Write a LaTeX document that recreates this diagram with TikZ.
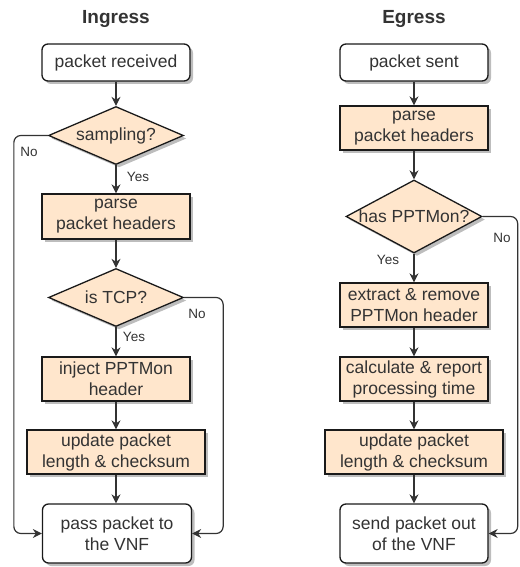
\documentclass[tikz,border=0pt]{standalone}
\usepackage{fontspec}
\setmainfont{Liberation Sans}
\usetikzlibrary{shapes.geometric,arrows.meta,shadows}
\definecolor{peach}{HTML}{FFE6CC}
\definecolor{ink}{HTML}{333333}
\definecolor{edge}{HTML}{1A1A1A}
\definecolor{shade}{HTML}{BDBDBD}
\begin{document}
\begin{tikzpicture}[x=1pt,y=-1pt,
  every node/.style={text=ink, font=\fontsize{17.5}{21}\selectfont},
  base/.style={draw=edge, line width=1.3pt, align=center, inner sep=0pt,
    drop shadow={shadow xshift=3pt,shadow yshift=-3pt,fill=shade,opacity=1}},
  term/.style={base, rounded corners=6pt, fill=white},
  proc/.style={base, fill=peach},
  dec/.style={base, shape=diamond, fill=peach},
  lbl/.style={font=\fontsize{13.5}{16}\selectfont},
  ttl/.style={font=\bfseries\fontsize{19}{22}\selectfont},
  flow/.style={draw=ink, line width=1.2pt, -{Stealth[length=9pt,width=9pt]}},
  loop/.style={flow, rounded corners=7pt},
]
\useasboundingbox (0,0) rectangle (519,567);

% ---------- Ingress ----------
\node[ttl] (ti) at (116,19) {Ingress};
\node[term, minimum width=148pt, minimum height=37pt] (recv) at (116,62.5) {packet received};
\node[dec, minimum width=135pt, minimum height=58pt] (samp) at (116,135.5) {};
\node (sampt) at (samp) {sampling?};
\node[proc, minimum width=148pt, minimum height=45pt] (parse) at (116,216.5) {parse\\packet headers};
\node[dec, minimum width=135pt, minimum height=58pt] (tcp) at (116,297.5) {};
\node (tcpt) at (tcp) {is TCP?};
\node[proc, minimum width=148pt, minimum height=44pt] (inject) at (116,379) {inject PPTMon\\header};
\node[proc, minimum width=178pt, minimum height=44pt] (upd) at (116,452) {update packet\\length \& checksum};
\node[term, minimum width=149pt, minimum height=59pt] (pass) at (117,533.5) {pass packet to\\the VNF};

\draw[flow] (recv.south) -- (samp.north);
\draw[flow] (samp.south) -- (parse.north);
\draw[flow] (parse.south) -- (tcp.north);
\draw[flow] (tcp.south) -- (inject.north);
\draw[flow] (inject.south) -- (upd.north);
\draw[flow] (upd.south) -- (upd.south |- pass.north);
\draw[loop] (samp.west) -- ++(-34,0) |- (pass.west);
\draw[loop] (tcp.east) -- ++(39,0) |- (pass.east);

\node[lbl] (no1) at (29,152) {No};
\node[lbl] (yes1) at (138,177) {Yes};
\node[lbl] (no2) at (197,314) {No};
\node[lbl] (yes2) at (134,337) {Yes};

% ---------- Egress ----------
\node[ttl] (te) at (414,19) {Egress};
\node[term, minimum width=148pt, minimum height=37pt] (sent) at (414,62.5) {packet sent};
\node[proc, minimum width=148pt, minimum height=44pt] (parse2) at (414,128) {parse\\packet headers};
\node[dec, minimum width=136pt, minimum height=73pt] (has) at (414,216.5) {};
\node (hast) at (has) {has PPTMon?};
\node[proc, minimum width=148pt, minimum height=44pt] (extr) at (414,305) {extract \& remove\\PPTMon header};
\node[proc, minimum width=148pt, minimum height=44pt] (calc) at (414,379) {calculate \& report\\processing time};
\node[proc, minimum width=178pt, minimum height=44pt] (upd2) at (414,452) {update packet\\length \& checksum};
\node[term, minimum width=148pt, minimum height=59pt] (send) at (414,533.5) {send packet out\\of the VNF};

\draw[flow] (sent.south) -- (parse2.north);
\draw[flow] (parse2.south) -- (has.north);
\draw[flow] (has.south) -- (extr.north);
\draw[flow] (extr.south) -- (calc.north);
\draw[flow] (calc.south) -- (upd2.north);
\draw[flow] (upd2.south) -- (send.north);
\draw[loop] (has.east) -- ++(35,0) |- (send.east);

\node[lbl] (no3) at (502,238) {No};
\node[lbl] (yes3) at (388,260) {Yes};
\end{tikzpicture}
\end{document}
